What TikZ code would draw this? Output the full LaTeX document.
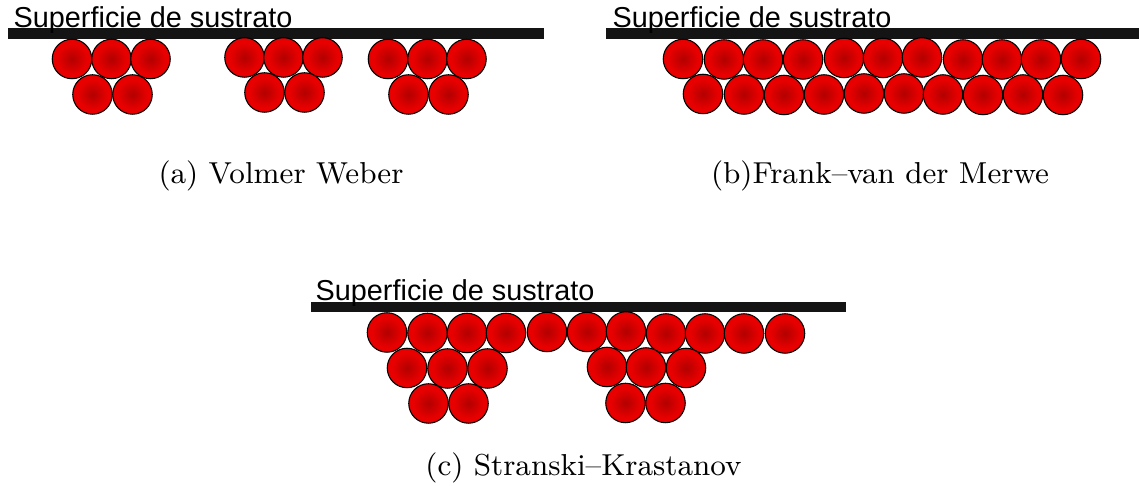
\documentclass[tikz,border=0pt]{standalone}
\usepackage{fontspec}
\newfontfamily\labelfont{Liberation Sans}
\usepackage{tikz}
\definecolor{beadcore}{rgb}{0.70,0,0}
\definecolor{beadrim}{rgb}{0.91,0,0}
\pgfdeclareradialshading{beadshade}{\pgfpoint{0bp}{0bp}}{
	color(0bp)=(beadcore);
	color(19bp)=(beadrim);
	color(25bp)=(beadrim);
	color(50bp)=(beadrim)}
\tikzset{
	bead/.style={circle,draw=black,line width=0.3pt,shading=beadshade,minimum size=0.395cm,inner sep=0pt},
	surface/.style={fill=black!92,draw=none,minimum height=0.105cm,inner sep=0pt},
	surflabel/.style={font=\labelfont\fontsize{8.2pt}{9pt}\selectfont,inner sep=0pt,anchor=base west},
	caption/.style={font=\fontsize{8.62pt}{11pt}\selectfont,inner sep=0pt,anchor=base}
}
\begin{document}
\begin{tikzpicture}
	\useasboundingbox (0,0) rectangle (11.39,4.86);

	% Volmer Weber
	\node[surface,minimum width=5.36cm] (sa) at (2.76,4.525) {};
	\node[surflabel] (la) at (0.13,4.585) {Superficie de sustrato};
	% first island
	\node[bead] (a1) at (0.72,4.27) {};
	\node[bead] (a2) at (1.115,4.27) {};
	\node[bead] (a3) at (1.505,4.27) {};
	\node[bead] (a4) at (0.925,3.915) {};
	\node[bead] (a5) at (1.325,3.915) {};
	% second island
	\node[bead] (a6) at (2.445,4.285) {};
	\node[bead] (a7) at (2.835,4.285) {};
	\node[bead] (a8) at (3.225,4.285) {};
	\node[bead] (a9) at (2.645,3.935) {};
	\node[bead] (a10) at (3.045,3.935) {};
	% third island
	\node[bead] (a11) at (3.88,4.27) {};
	\node[bead] (a12) at (4.275,4.27) {};
	\node[bead] (a13) at (4.665,4.27) {};
	\node[bead] (a14) at (4.085,3.915) {};
	\node[bead] (a15) at (4.485,3.915) {};
	\node[caption] (ca) at (2.81,3.025) {(a) Volmer Weber};

	% Frank-van der Merwe
	\node[surface,minimum width=5.33cm] (sb) at (8.725,4.525) {};
	\node[surflabel] (lb) at (6.12,4.585) {Superficie de sustrato};
	% top row
	\node[bead] (b1) at (6.83,4.27) {};
	\node[bead] (b2) at (7.24,4.265) {};
	\node[bead] (b3) at (7.63,4.265) {};
	\node[bead] (b4) at (8.03,4.265) {};
	\node[bead] (b5) at (8.44,4.28) {};
	\node[bead] (b6) at (8.83,4.28) {};
	\node[bead] (b7) at (9.22,4.285) {};
	\node[bead] (b8) at (9.63,4.265) {};
	\node[bead] (b9) at (10.02,4.265) {};
	\node[bead] (b10) at (10.41,4.265) {};
	\node[bead] (b11) at (10.81,4.27) {};
	% bottom row
	\node[bead] (b12) at (7.03,3.92) {};
	\node[bead] (b13) at (7.44,3.915) {};
	\node[bead] (b14) at (7.84,3.91) {};
	\node[bead] (b15) at (8.24,3.915) {};
	\node[bead] (b16) at (8.64,3.925) {};
	\node[bead] (b17) at (9.04,3.925) {};
	\node[bead] (b18) at (9.43,3.915) {};
	\node[bead] (b19) at (9.83,3.91) {};
	\node[bead] (b20) at (10.23,3.915) {};
	\node[bead] (b21) at (10.63,3.91) {};
	\node[caption] (cb) at (8.80,3.025) {(b)Frank--van der Merwe};

	% Stranski-Krastanov
	\node[surface,minimum width=5.35cm] (sc) at (5.785,1.79) {};
	\node[surflabel] (lc) at (3.15,1.85) {Superficie de sustrato};
	% wetting layer
	\node[bead] (c1) at (3.87,1.535) {};
	\node[bead] (c2) at (4.275,1.53) {};
	\node[bead] (c3) at (4.67,1.53) {};
	\node[bead] (c4) at (5.06,1.53) {};
	\node[bead] (c5) at (5.47,1.54) {};
	\node[bead] (c6) at (5.87,1.54) {};
	\node[bead] (c7) at (6.26,1.545) {};
	\node[bead] (c8) at (6.66,1.525) {};
	\node[bead] (c9) at (7.05,1.525) {};
	\node[bead] (c10) at (7.44,1.525) {};
	\node[bead] (c11) at (7.85,1.525) {};
	% left island
	\node[bead] (c12) at (4.07,1.18) {};
	\node[bead] (c13) at (4.475,1.175) {};
	\node[bead] (c14) at (4.875,1.175) {};
	\node[bead] (c15) at (4.285,0.825) {};
	\node[bead] (c16) at (4.685,0.825) {};
	% right island
	\node[bead] (c17) at (6.07,1.19) {};
	\node[bead] (c18) at (6.46,1.185) {};
	\node[bead] (c19) at (6.86,1.18) {};
	\node[bead] (c20) at (6.255,0.83) {};
	\node[bead] (c21) at (6.655,0.83) {};
	\node[caption] (cc) at (5.835,0.10) {(c) Stranski--Krastanov};
\end{tikzpicture}
\end{document}
